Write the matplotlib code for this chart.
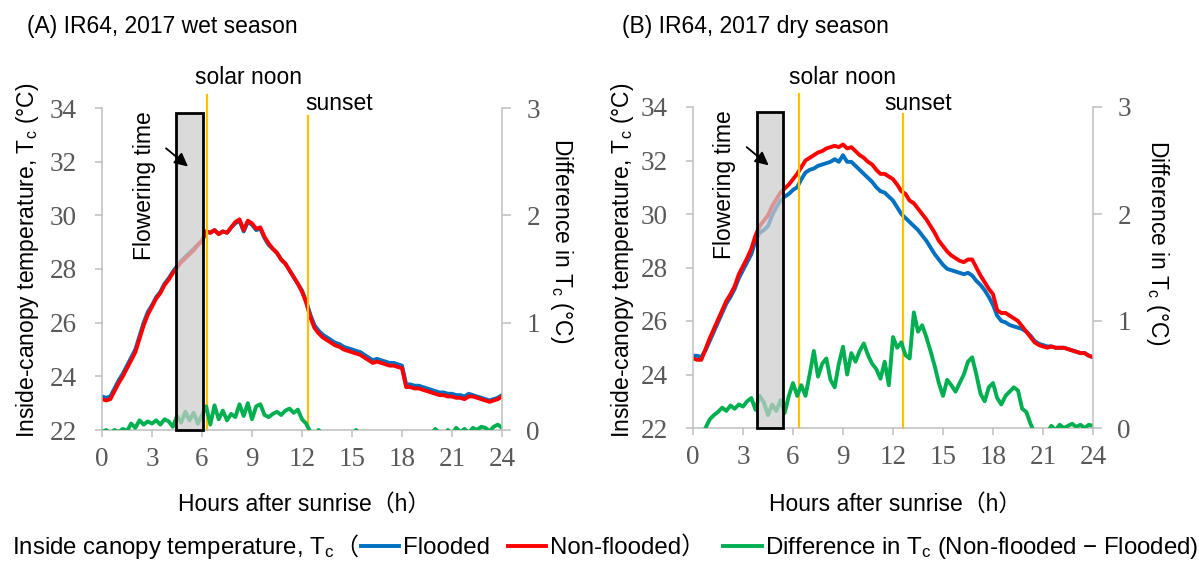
import matplotlib
matplotlib.use('agg')
import matplotlib.pyplot as plt
from matplotlib.patches import Rectangle
from matplotlib.lines import Line2D
import numpy as np

plt.rcParams['font.family'] = ['Liberation Sans', 'Noto Sans CJK JP']
plt.rcParams['mathtext.fontset'] = 'custom'
plt.rcParams['mathtext.rm'] = 'Liberation Sans'
plt.rcParams['mathtext.it'] = 'Liberation Sans:italic'

# hours after sunrise, 15 min steps
hours = np.arange(97) * 0.25

# (A) wet season
wet_nonflooded = [
    23.15, 23.1, 23.15, 23.45, 23.75, 24.0, 24.3, 24.6, 24.9, 25.4, 25.9, 26.3,
    26.6, 26.9, 27.1, 27.4, 27.6, 27.85, 28.05, 28.25, 28.4, 28.55, 28.7, 28.9,
    29.05, 29.4, 29.35, 29.45, 29.3, 29.4, 29.35, 29.55, 29.75, 29.85, 29.45, 29.8,
    29.7, 29.5, 29.55, 29.2, 28.95, 28.75, 28.6, 28.35, 28.2, 27.95, 27.7, 27.45,
    27.15, 26.75, 26.2, 25.8, 25.6, 25.45, 25.35, 25.25, 25.15, 25.1, 25.0, 24.95,
    24.9, 24.85, 24.8, 24.7, 24.6, 24.5, 24.55, 24.5, 24.45, 24.4, 24.4, 24.35,
    24.3, 23.6, 23.6, 23.55, 23.55, 23.5, 23.45, 23.4, 23.35, 23.3, 23.3, 23.25,
    23.25, 23.2, 23.2, 23.15, 23.25, 23.25, 23.2, 23.15, 23.1, 23.05, 23.1, 23.15,
    23.25]
wet_flooded = [
    23.25, 23.2, 23.25, 23.55, 23.85, 24.1, 24.4, 24.7, 25.0, 25.5, 26.0, 26.4,
    26.65, 26.95, 27.15, 27.45, 27.65, 27.9, 28.1, 28.3, 28.45, 28.6, 28.75, 28.9,
    29.05, 29.4, 29.35, 29.45, 29.3, 29.4, 29.35, 29.55, 29.7, 29.8, 29.4, 29.75,
    29.65, 29.45, 29.5, 29.15, 28.9, 28.75, 28.6, 28.35, 28.2, 27.95, 27.7, 27.45,
    27.2, 26.8, 26.3, 25.9, 25.7, 25.55, 25.45, 25.35, 25.25, 25.2, 25.1, 25.05,
    25.0, 24.95, 24.9, 24.8, 24.7, 24.6, 24.65, 24.6, 24.55, 24.5, 24.5, 24.45,
    24.4, 23.7, 23.7, 23.65, 23.65, 23.6, 23.55, 23.5, 23.45, 23.4, 23.4, 23.35,
    23.35, 23.3, 23.3, 23.25, 23.35, 23.3, 23.25, 23.2, 23.15, 23.1, 23.15, 23.2,
    23.3]
wet_diff = [
    -0.02, 0.0, -0.03, 0.0, -0.02, 0.01, -0.01, 0.06, 0.02, 0.09, 0.05, 0.08,
    0.06, 0.09, 0.05, 0.1, 0.08, 0.03, 0.13, 0.07, 0.17, 0.09, 0.16, 0.06,
    0.14, 0.22, 0.05, 0.23, 0.1, 0.18, 0.09, 0.15, 0.12, 0.24, 0.13, 0.25,
    0.1, 0.22, 0.24, 0.14, 0.12, 0.15, 0.17, 0.14, 0.18, 0.2, 0.16, 0.19,
    0.1, 0.06, -0.02, -0.06, 0.0, -0.05, -0.08, -0.1, -0.08, -0.1, -0.07, -0.09,
    -0.06, 0.0, -0.08, -0.1, -0.09, -0.11, -0.08, -0.1, -0.09, -0.08, -0.1, -0.09,
    -0.1, -0.07, -0.09, -0.1, -0.08, -0.06, -0.09, -0.04, 0.01, -0.03, -0.06, 0.0,
    -0.04, 0.02, -0.02, 0.01, -0.03, 0.02, 0.0, 0.03, 0.02, -0.01, 0.03, 0.05,
    0.02]

# (B) dry season
dry_nonflooded = [
    24.6, 24.55, 24.55, 24.95, 25.35, 25.7, 26.05, 26.4, 26.75, 27.0, 27.3, 27.75,
    28.05, 28.35, 28.7, 29.2, 29.55, 29.75, 29.95, 30.3, 30.55, 30.8, 30.95, 31.1,
    31.3, 31.5, 31.75, 32.0, 32.1, 32.2, 32.3, 32.35, 32.45, 32.5, 32.55, 32.5,
    32.6, 32.45, 32.5, 32.35, 32.2, 32.1, 31.95, 31.85, 31.65, 31.5, 31.5, 31.4,
    31.3, 31.1, 30.85, 30.75, 30.5, 30.4, 30.2, 30.0, 29.8, 29.55, 29.3, 29.0,
    28.8, 28.6, 28.45, 28.35, 28.25, 28.2, 28.3, 28.3, 28.0, 27.7, 27.45, 27.2,
    27.0, 26.4, 26.3, 26.3, 26.2, 26.1, 26.0, 25.8, 25.6, 25.4, 25.2, 25.1,
    25.05, 25.0, 25.05, 25.0, 25.0, 25.0, 24.95, 24.9, 24.85, 24.8, 24.8, 24.7,
    24.65]
dry_flooded = [
    24.7, 24.7, 24.65, 24.9, 25.25, 25.6, 25.95, 26.3, 26.65, 26.9, 27.2, 27.6,
    27.9, 28.2, 28.5, 29.0, 29.3, 29.4, 29.55, 29.95, 30.25, 30.5, 30.65, 30.75,
    30.9, 31.0, 31.3, 31.55, 31.65, 31.7, 31.8, 31.85, 31.9, 31.95, 32.05, 31.95,
    32.2, 31.95, 31.95, 31.8, 31.65, 31.5, 31.35, 31.2, 31.0, 30.85, 30.8, 30.65,
    30.5, 30.25, 30.0, 29.85, 29.7, 29.55, 29.4, 29.2, 29.0, 28.75, 28.5, 28.3,
    28.1, 27.95, 27.9, 27.85, 27.8, 27.75, 27.8, 27.7, 27.5, 27.35, 27.15, 26.9,
    26.6, 26.2, 26.0, 25.95, 25.85, 25.8, 25.75, 25.7, 25.6, 25.45, 25.25, 25.15,
    25.1, 25.05, 25.05, 25.0, 25.0, 25.0, 24.95, 24.9, 24.85, 24.8, 24.8, 24.7,
    24.65]
dry_diff = [
    -0.1, -0.12, -0.08, 0.0, 0.08, 0.12, 0.15, 0.19, 0.16, 0.21, 0.18, 0.22,
    0.2, 0.25, 0.28, 0.17, 0.3, 0.24, 0.12, 0.22, 0.16, 0.26, 0.14, 0.3,
    0.42, 0.3, 0.4, 0.3, 0.5, 0.72, 0.48, 0.6, 0.65, 0.45, 0.38, 0.6,
    0.76, 0.5, 0.7, 0.62, 0.72, 0.79, 0.68, 0.6, 0.55, 0.46, 0.62, 0.4,
    0.85, 0.75, 0.8, 0.68, 0.65, 1.08, 0.9, 0.96, 0.85, 0.72, 0.58, 0.42,
    0.3, 0.45, 0.4, 0.34, 0.42, 0.5, 0.62, 0.66, 0.5, 0.32, 0.25, 0.38,
    0.42, 0.28, 0.22, 0.3, 0.34, 0.38, 0.35, 0.18, 0.15, 0.04, -0.05, -0.1,
    -0.08, -0.05, 0.02, -0.02, 0.03, 0.0, 0.02, 0.04, 0.01, 0.03, 0.0, 0.03,
    0.02]

# event times (h after sunrise) and flowering window
wet_noon, wet_sunset = 6.3, 12.36
dry_noon, dry_sunset = 6.36, 12.6
wet_flower = (4.44, 6.08)
dry_flower = (3.82, 5.42)

W, H = 1199, 565
BLUE, RED, GREEN, GOLD = '#0070C0', '#FF0000', '#00B050', '#FFC000'
AXIS_GRAY, TICK_GRAY = '#bfbfbf', '#595959'
FS = 16.5


def px(x, y):
    return x / W, 1 - y / H


def panel(rect, flooded, nonflooded, diff, noon, sunset, flower):
    ax = fig.add_axes(rect)
    ax.plot(hours, flooded, color=BLUE, lw=2.8, solid_joinstyle='round')
    ax.plot(hours, nonflooded, color=RED, lw=2.8, solid_joinstyle='round')
    ax.set_xlim(0, 24)
    ax.set_ylim(22, 34)
    ax.set_xticks(range(0, 25, 3))
    ax.set_yticks(range(22, 35, 2))
    ax.spines['top'].set_visible(False)
    ax.spines['right'].set_visible(False)
    for s in ['left', 'bottom']:
        ax.spines[s].set_color(AXIS_GRAY)
        ax.spines[s].set_linewidth(1.1)
    ax.tick_params(axis='y', direction='out', length=5, width=1.1, color=AXIS_GRAY,
                   labelcolor=TICK_GRAY, labelsize=19.5, pad=13)
    ax.tick_params(axis='x', direction='out', length=5, width=1.1, color=AXIS_GRAY,
                   labelcolor=TICK_GRAY, labelsize=19.5, pad=7)
    for lbl in ax.get_xticklabels() + ax.get_yticklabels():
        lbl.set_fontfamily('Liberation Serif')

    # solar noon / sunset markers
    ax.plot([noon, noon], [22, 34.47], color=GOLD, lw=1.6, clip_on=False)
    ax.plot([sunset, sunset], [22, 33.72], color=GOLD, lw=1.6, clip_on=False)

    ax2 = ax.twinx()
    ax2.plot(hours, diff, color=GREEN, lw=2.8, solid_joinstyle='round')
    ax2.set_ylim(0, 3)
    ax2.set_yticks([0, 1, 2, 3])
    for s in ['top', 'left', 'bottom']:
        ax2.spines[s].set_visible(False)
    ax2.spines['right'].set_color(AXIS_GRAY)
    ax2.spines['right'].set_linewidth(1.1)
    ax2.tick_params(axis='y', direction='out', length=6.5, width=1.1, color=AXIS_GRAY,
                    labelcolor=TICK_GRAY, labelsize=19.5, pad=11)
    for lbl in ax2.get_yticklabels():
        lbl.set_fontfamily('Liberation Serif')

    # flowering time box (twin axis units: 0-3 <-> 22-34)
    ax2.add_patch(Rectangle((flower[0], 0), flower[1] - flower[0], (33.8 - 22) / 4,
                            facecolor=(0.80, 0.80, 0.80, 0.72), edgecolor='black',
                            lw=2, zorder=5, clip_on=False))
    ax2.annotate('', xy=(flower[0] + 0.72, (31.82 - 22) / 4),
                 xytext=(flower[0] - 0.6, (32.5 - 22) / 4),
                 arrowprops=dict(arrowstyle='-|>', color='black', lw=1.3,
                                 mutation_scale=20, shrinkA=0, shrinkB=0),
                 zorder=6)
    ax2.text(flower[0] - 1.92, (31.1 - 22) / 4, 'Flowering time', rotation=90,
             ha='center', va='center', fontsize=FS, zorder=6)
    return ax, ax2


fig = plt.figure(figsize=(W / 100, H / 100), dpi=100)

panel([102 / W, 1 - 430 / H, 400 / W, 322 / H], wet_flooded, wet_nonflooded, wet_diff,
      wet_noon, wet_sunset, wet_flower)
panel([693 / W, 1 - 428 / H, 400 / W, 321 / H], dry_flooded, dry_nonflooded, dry_diff,
      dry_noon, dry_sunset, dry_flower)

# titles and annotations
fig.text(*px(27, 26), '(A) IR64, 2017 wet season', ha='left', va='center', fontsize=FS)
fig.text(*px(622, 26), '(B) IR64, 2017 dry season', ha='left', va='center', fontsize=FS)
fig.text(*px(195, 77), 'solar noon', ha='left', va='center', fontsize=FS)
fig.text(*px(305, 103), 'sunset', ha='left', va='center', fontsize=FS)
fig.text(*px(789, 77), 'solar noon', ha='left', va='center', fontsize=FS)
fig.text(*px(884, 103), 'sunset', ha='left', va='center', fontsize=FS)

ylab = 'Inside-canopy temperature, T$_\\mathrm{c}$ (°C)'
rlab = 'Difference in T$_\\mathrm{c}$ (°C)'
fig.text(*px(28, 260), ylab, rotation=90, ha='center', va='center', fontsize=FS)
fig.text(*px(622, 260), ylab, rotation=90, ha='center', va='center', fontsize=FS)
fig.text(*px(561, 241), rlab, rotation=270, ha='center', va='center', fontsize=FS)
fig.text(*px(1157, 243), rlab, rotation=270, ha='center', va='center', fontsize=FS)
fig.text(*px(304, 504), 'Hours after sunrise（h）', ha='center', va='center', fontsize=FS)
fig.text(*px(895, 504), 'Hours after sunrise（h）', ha='center', va='center', fontsize=FS)

# bottom legend
LEG_Y = 548
LFS = 17.3
t1 = fig.text(*px(12, LEG_Y), 'Inside canopy temperature, T$_\\mathrm{c}$', ha='left',
              va='center', fontsize=LFS)
fig.canvas.draw()
x_end = t1.get_window_extent().x1
t2 = fig.text(x_end / W, 1 - LEG_Y / H, '（', ha='left', va='center', fontsize=LFS)
fig.canvas.draw()
x_end = t2.get_window_extent().x1

handles = [Line2D([], [], color=BLUE, lw=2.8),
           Line2D([], [], color=RED, lw=2.8),
           Line2D([], [], color=GREEN, lw=2.8)]
labels = ['Flooded', 'Non-flooded）', 'Difference in T$_\\mathrm{c}$ (Non-flooded − Flooded)']
fig.legend(handles, labels, ncol=3, loc='center left',
           bbox_to_anchor=(x_end / W + 0.002, 1 - LEG_Y / H), frameon=False,
           fontsize=LFS, handlelength=1.6, handletextpad=0.15, columnspacing=0.75,
           borderpad=0, borderaxespad=0)

fig.savefig('out.png', dpi=100)
